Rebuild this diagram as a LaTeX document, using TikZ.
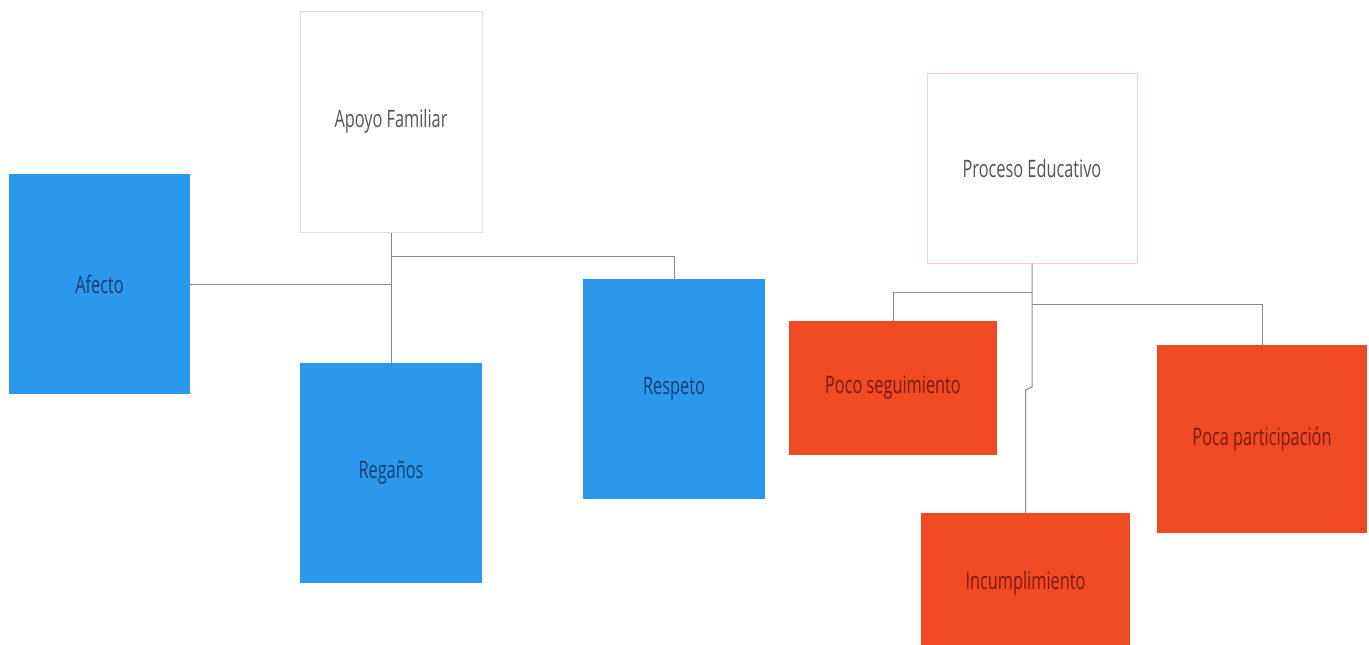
\documentclass[tikz,border=0pt]{standalone}
\usepackage{fontspec}
\setmainfont{Open Sans}[FakeStretch=0.68]
\definecolor{bluebox}{HTML}{2B98EC}
\definecolor{redbox}{HTML}{F04A24}
\definecolor{bluetext}{HTML}{173E6E}
\definecolor{redtext}{HTML}{7A1C10}
\definecolor{greytext}{HTML}{555555}
\definecolor{connector}{HTML}{8A8A8A}
\tikzset{
  box/.style={rectangle, inner sep=0pt, font=\fontsize{24}{28}\selectfont},
  topbox/.style={box, draw=#1, line width=1pt, fill=white, text=greytext},
  bluenode/.style={box, fill=bluebox, text=bluetext},
  rednode/.style={box, fill=redbox, text=redtext},
  link/.style={draw=connector, line width=1pt}
}
\begin{document}
\begin{tikzpicture}[x=1pt,y=-1pt]
\useasboundingbox (0,0) rectangle (1369,645);
\clip (0,0) rectangle (1369,645);
% left group
\node[topbox=black!12, minimum width=182, minimum height=221] (apoyo) at (391,121.5) {Apoyo Familiar};
\node[bluenode, minimum width=181, minimum height=220] (afecto) at (99.5,284) {Afecto};
\node[bluenode, minimum width=182, minimum height=220] (reganos) at (391,473) {Regaños};
\node[bluenode, minimum width=182, minimum height=220] (respeto) at (674,389) {Respeto};
\coordinate (abranch) at (391,256);
\draw[link] (apoyo.south) -- (reganos.north);
\draw[link] (afecto.east) -- (afecto.east -| apoyo.south);
\draw[link] (abranch) -| (respeto.north);
% right group
\node[topbox=red!18, minimum width=210, minimum height=190] (proceso) at (1032,168) {Proceso Educativo};
\node[rednode, minimum width=208, minimum height=134] (poco) at (893,388) {Poco seguimiento};
\node[rednode, minimum width=209, minimum height=140] (incump) at (1025.5,583) {Incumplimiento};
\node[rednode, minimum width=210, minimum height=188] (poca) at (1262,439) {Poca participación};
\coordinate (pbranchA) at (1032,292);
\coordinate (pbranchB) at (1032,304);
\coordinate (jogA) at (1032,387);
\coordinate (jogB) at (1025.5,390);
\draw[link] (proceso.south) -- (jogA) -- (jogB) -- (incump.north);
\draw[link] (pbranchA) -| (poco.north);
\draw[link] (pbranchB) -| (poca.north);
\end{tikzpicture}
\end{document}
